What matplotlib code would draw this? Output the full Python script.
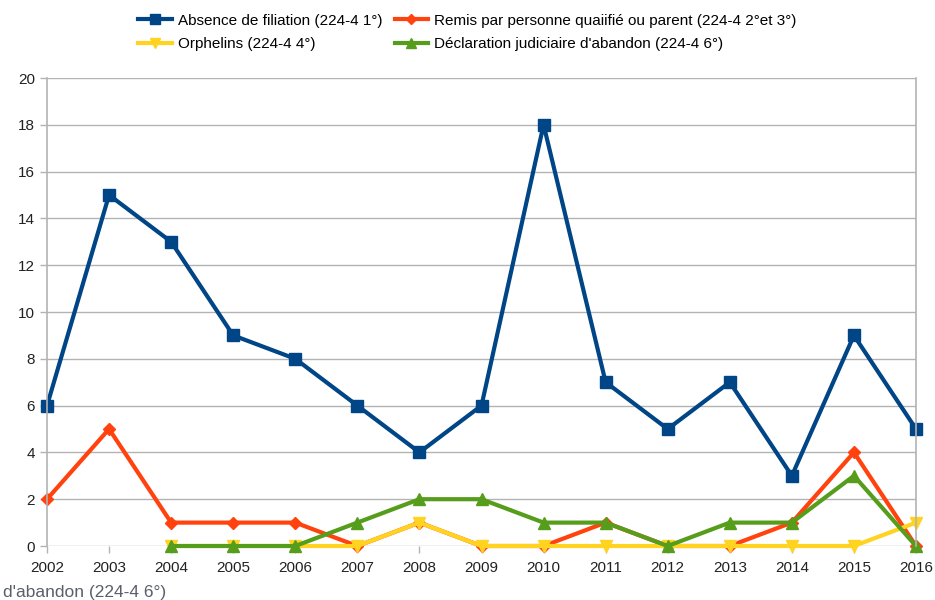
import matplotlib
matplotlib.use("Agg")
from matplotlib import pyplot as plt

plt.rcParams['font.family'] = ['Liberation Sans', 'DejaVu Sans']

years = list(range(2002, 2017))
absence = [6, 15, 13, 9, 8, 6, 4, 6, 18, 7, 5, 7, 3, 9, 5]
remis = [2, 5, 1, 1, 1, 0, 1, 0, 0, 1, 0, 0, 1, 4, 0]
years_late = list(range(2004, 2017))
orphelins = [0, 0, 0, 0, 1, 0, 0, 0, 0, 0, 0, 0, 1]
declaration = [0, 0, 0, 1, 2, 2, 1, 1, 0, 1, 1, 3, 0]

labels = ["Absence de filiation (224-4 1°)",
          "Remis par personne quaiifié ou parent (224-4 2°et 3°)",
          "Orphelins (224-4 4°)",
          "Déclaration judiciaire d'abandon (224-4 6°)"]
colors = ["#004586", "#ff420e", "#ffd320", "#579d1c"]

fig = plt.figure(figsize=(9.35, 6), dpi=100)
ax = fig.add_axes([47/935, 54/600, (916-47)/935, (546-78)/600])

lw = 3
h1, = ax.plot(years, absence, color=colors[0], lw=lw, marker='s', ms=9, label=labels[0])
h2, = ax.plot(years, remis, color=colors[1], lw=lw, marker='D', ms=6, label=labels[1])
h3, = ax.plot(years_late, orphelins, color=colors[2], lw=lw, marker='v', ms=9, label=labels[2])
h4, = ax.plot(years_late, declaration, color=colors[3], lw=lw, marker='^', ms=9, label=labels[3])
for h in (h1, h2, h3, h4):
    h.set_clip_on(False)

ax.set_xlim(2002, 2016)
ax.set_ylim(0, 20)
ax.set_xticks(years)
ax.set_yticks(range(0, 21, 2))
ax.grid(axis='y', color='#b3b3b3', lw=1)
ax.set_axisbelow(True)
for s in ['top', 'bottom']:
    ax.spines[s].set_visible(False)
for s in ['left', 'right']:
    ax.spines[s].set_color('#b3b3b3')
    ax.spines[s].set_linewidth(1.2)
ax.tick_params(colors='#b3b3b3', labelcolor='#222222', labelsize=11, length=5, width=1)
ax.tick_params(axis='x', pad=6)

fig.legend([h1, h3, h2, h4], [labels[0], labels[2], labels[1], labels[3]],
           ncol=2, loc='upper center', bbox_to_anchor=(0.5, 1.0), frameon=False,
           fontsize=11, handlelength=2.2, columnspacing=0.8, labelspacing=0.6,
           handletextpad=0.4, markerscale=0.8)

# stray, partly hidden label seen at the bottom left of the original
fig.text(3/935, 1 - 593/600, "d'abandon (224-4 6°)",
         ha='left', va='center', fontsize=12.5, color='#5a5f6a')

fig.savefig("out.png", dpi=100)
